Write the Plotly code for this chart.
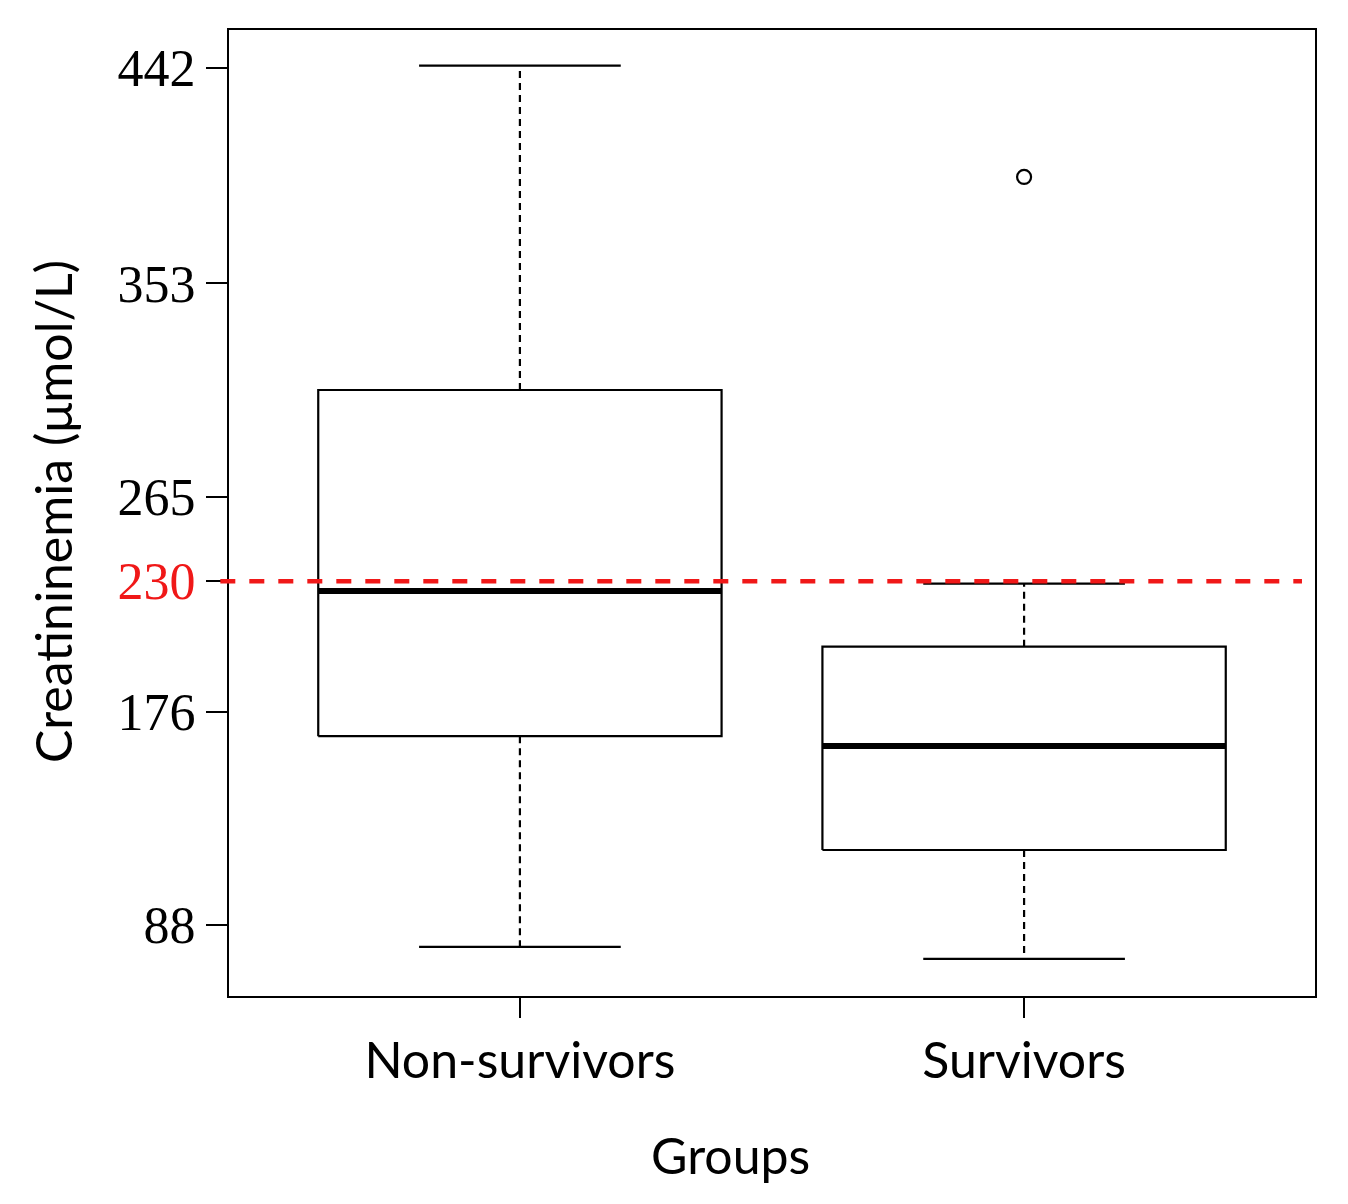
import plotly.graph_objects as go

# ---- data ----
groups = ["Non-survivors", "Survivors"]
positions = [1, 2]
q1 = [166, 119]
median = [226, 162]
q3 = [309, 203]
lower_whisker = [79, 74]
upper_whisker = [443, 229]
outlier_group = [2]
outlier_value = [397]
threshold = 230
ytick_vals = [88, 176, 230, 265, 353, 442]

BOX_HALF = 0.4
CAP_HALF = 0.2

fig = go.Figure()

for pos, a, m, b, lo, hi in zip(positions, q1, median, q3, lower_whisker, upper_whisker):
    # box
    fig.add_trace(go.Scatter(
        x=[pos - BOX_HALF, pos + BOX_HALF, pos + BOX_HALF, pos - BOX_HALF, pos - BOX_HALF],
        y=[a, a, b, b, a], mode="lines",
        line=dict(color="black", width=2.2), hoverinfo="skip", showlegend=False))
    # whiskers (dashed)
    fig.add_trace(go.Scatter(
        x=[pos, pos, None, pos, pos], y=[b, hi, None, a, lo], mode="lines",
        line=dict(color="black", width=2.2, dash="7px,5px"), hoverinfo="skip", showlegend=False))
    # caps
    fig.add_trace(go.Scatter(
        x=[pos - CAP_HALF, pos + CAP_HALF, None, pos - CAP_HALF, pos + CAP_HALF],
        y=[hi, hi, None, lo, lo], mode="lines",
        line=dict(color="black", width=2.2), hoverinfo="skip", showlegend=False))
    # median
    fig.add_trace(go.Scatter(
        x=[pos - BOX_HALF, pos + BOX_HALF], y=[m, m], mode="lines",
        line=dict(color="black", width=6), hoverinfo="skip", showlegend=False))

# outliers
fig.add_trace(go.Scatter(
    x=outlier_group, y=outlier_value, mode="markers",
    marker=dict(symbol="circle-open", size=14, color="black", line=dict(width=2.2)),
    showlegend=False, hoverinfo="skip"))

# threshold line
fig.add_shape(type="line", xref="paper", yref="y", x0=-0.008, x1=0.988,
              y0=threshold, y1=threshold,
              line=dict(color="#f01818", width=4.5, dash="15px,14px"))

ytick_text = [('<span style="color:#f01818">%d</span>' % v) if v == threshold else str(v)
              for v in ytick_vals]

fig.update_layout(
    width=1348, height=1204,
    margin=dict(l=221, r=41, t=22, b=216),
    plot_bgcolor="white", paper_bgcolor="white",
    showlegend=False,
    xaxis=dict(range=[0.423, 2.577], tickmode="array", tickvals=positions, ticktext=groups,
               ticks="outside", ticklen=20, tickwidth=2, tickcolor="black",
               showline=True, linecolor="black", linewidth=2, mirror=True,
               showgrid=False, zeroline=False,
               tickfont=dict(family="Lato", size=50, color="black")),
    yaxis=dict(range=[58.7, 457.7], tickmode="array", tickvals=ytick_vals, ticktext=ytick_text,
               ticks="outside", ticklen=21, tickwidth=2, tickcolor="black",
               showline=True, linecolor="black", linewidth=2, mirror=True,
               showgrid=False, zeroline=False,
               tickfont=dict(family="Liberation Serif", size=52, color="black")),
    annotations=[
        dict(text="Groups", xref="paper", yref="paper", x=0.462, y=-0.1646,
             xanchor="center", yanchor="middle", showarrow=False,
             font=dict(family="Lato", size=50, color="black")),
        dict(text="Creatininemia (μmol/L)", xref="paper", yref="paper", x=-0.162, y=0.501,
             xanchor="center", yanchor="middle", textangle=-90, showarrow=False,
             font=dict(family="Lato", size=50, color="black")),
    ],
)

fig.write_html("out.html")
